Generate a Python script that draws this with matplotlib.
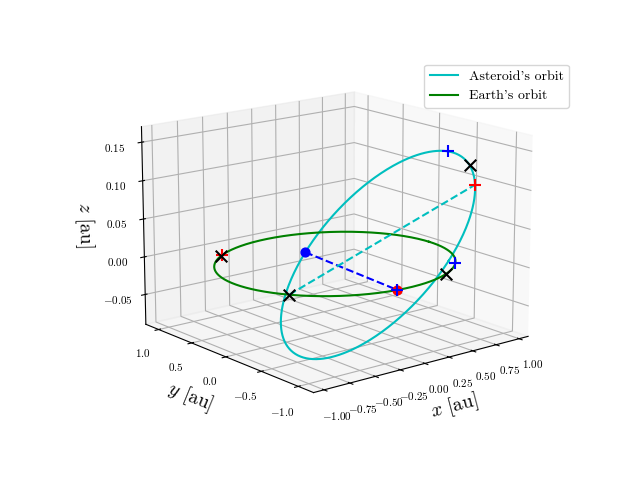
import numpy as np
import matplotlib
matplotlib.use("Agg")
import matplotlib.pyplot as plt

plt.rcParams["mathtext.fontset"] = "cm"
plt.rcParams["font.family"] = "serif"
plt.rcParams["font.serif"] = ["cmr10"]
plt.rcParams["axes.formatter.use_mathtext"] = True

# Earth orbit: unit circle in the z=0 plane
earth_r = 1.0
# Asteroid orbit: centre and two conjugate semi-diameters (au)
ast_center = [0.37, -0.08, 0.0]
ast_A = [0.37, -0.505, 0.0]
ast_B = [0.38, -0.40, 0.14]
# marked positions: Earth longitudes (deg), asteroid parameter (deg)
earth_dot = -97.0
ast_dot = 180.0
earth_black_x = [127.0, 212.0, -62.0]
earth_red_plus = [125.0, -97.0]
earth_blue_plus = [-43.0, -97.0]
ast_blue_plus = [86.0]
ast_black_x = [62.0]
ast_red_plus = [45.0]

def earth(l):
    l = np.radians(np.asarray(l, float))
    return earth_r*np.cos(l), earth_r*np.sin(l), 0*l

def ast(t):
    t = np.radians(np.asarray(t, float))
    c, A, B = map(np.array, (ast_center, ast_A, ast_B))
    return tuple(c[k] + A[k]*np.cos(t) + B[k]*np.sin(t) for k in range(3))

fig = plt.figure(figsize=(6.4, 4.8), dpi=100)
ax = fig.add_subplot(projection="3d")
ax.set_position([0.03, 0.06, 0.97, 0.89])
t = np.linspace(0, 360, 400)
ax.plot(*ast(t), color="c", label="Asteroid's orbit")
ax.plot(*earth(t), color="g", label="Earth's orbit")

ed = earth(earth_dot); ad = ast(ast_dot)
ax.plot([ad[0], ed[0]], [ad[1], ed[1]], [ad[2], ed[2]], "b--")
e2 = earth(earth_black_x[1]); a2 = ast(ast_red_plus[0])
ax.plot([e2[0], a2[0]], [e2[1], a2[1]], [e2[2], a2[2]], "c--")
ax.scatter(*ast([ast_dot]), color="b", s=40, depthshade=False)
ax.scatter(*earth([earth_dot]), color="r", s=40, depthshade=False)

kw = dict(s=70, depthshade=False)
ax.scatter(*earth(earth_black_x), color="k", marker="x", **kw)
ax.scatter(*earth(earth_red_plus), color="r", marker="+", **kw)
ax.scatter(*earth(earth_blue_plus), color="b", marker="+", **kw)
ax.scatter(*ast(ast_blue_plus), color="b", marker="+", **kw)
ax.scatter(*ast(ast_black_x), color="k", marker="x", **kw)
ax.scatter(*ast(ast_red_plus), color="r", marker="+", **kw)

ax.set_xlim(-1.1, 1.1); ax.set_ylim(-1.2, 1.2); ax.set_zlim(-0.09, 0.17)
ax.set_xticks(np.arange(-1, 1.01, 0.25))
ax.set_yticks([-1, -0.5, 0, 0.5, 1])
ax.set_zticks([-0.05, 0, 0.05, 0.1, 0.15])
ax.set_xlabel(r"$x$ [au]", fontsize=14)
ax.set_ylabel(r"$y$ [au]", fontsize=14)
ax.set_zlabel(r"$z$ [au]", fontsize=14)
ax.tick_params(labelsize=8)
ax.view_init(elev=15, azim=-129)
ax.legend(loc="upper right", fontsize=10, bbox_to_anchor=(0.90, 0.88),
          bbox_transform=fig.transFigure)
fig.savefig("out.png")
